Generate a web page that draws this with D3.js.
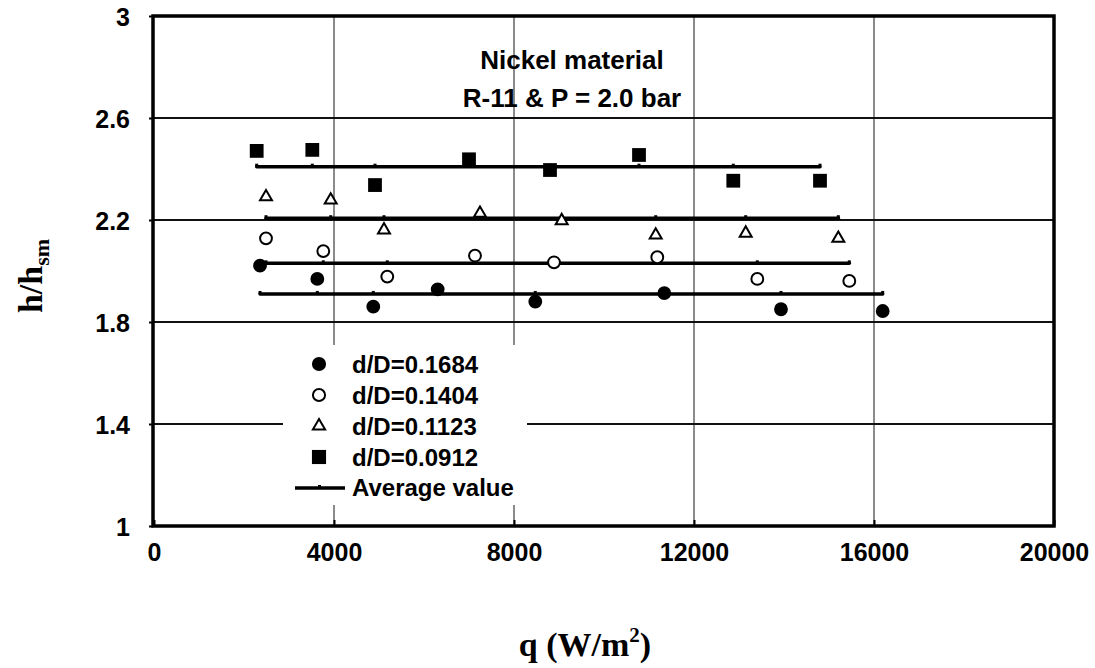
<!DOCTYPE html>
<html>
<head>
<meta charset="utf-8">
<script src="https://cdn.jsdelivr.net/npm/d3@7"></script>
<style>
  body { margin: 0; background: #fff; }
  text { font-family: "Liberation Sans", Arial, sans-serif; font-weight: bold; fill: #000; }
  .serif { font-family: "Liberation Serif", "Times New Roman", serif; }
</style>
</head>
<body>
<svg id="chart" width="1095" height="668"></svg>
<script>
//============ data =========//
// d/D = 0.1684 (filled circles)
var qFilledCircle = [2356, 3629, 4873, 6304, 8473, 11340, 13933, 16193],
    hFilledCircle = [2.021, 1.969, 1.860, 1.928, 1.880, 1.913, 1.850, 1.843];
// d/D = 0.1404 (open circles)
var qOpenCircle = [2489, 3762, 5184, 7133, 8889, 11184, 13407, 15451],
    hOpenCircle = [2.128, 2.078, 1.978, 2.060, 2.034, 2.054, 1.969, 1.961];
// d/D = 0.1123 (triangles)
var qTriangle = [2489, 3927, 5111, 7244, 9060, 11149, 13149, 15207],
    hTriangle = [2.291, 2.278, 2.161, 2.226, 2.197, 2.141, 2.148, 2.128];
// d/D = 0.0912 (squares)
var qSquare = [2282, 3518, 4911, 7000, 8800, 10778, 12873, 14800],
    hSquare = [2.471, 2.475, 2.337, 2.438, 2.396, 2.455, 2.354, 2.354];

var seriesNames = ['d/D=0.1684', 'd/D=0.1404', 'd/D=0.1123', 'd/D=0.0912'];
var averageValues = [1.910, 2.030, 2.207, 2.409];
var xTickValues = [0, 4000, 8000, 12000, 16000, 20000];
var yTickValues = [1, 1.4, 1.8, 2.2, 2.6, 3];
var titleLines = ['Nickel material', 'R-11 & P = 2.0 bar'];

//============ layout =========//
var svg = d3.select('#chart');
var plotLeft = 154, plotRight = 1054, plotTop = 16, plotBottom = 526;

var x = d3.scaleLinear().domain([0, 20000]).range([plotLeft, plotRight]);
var y = d3.scaleLinear().domain([1, 3]).range([plotBottom, plotTop]);

// vertical grid (grey)
svg.append('g')
  .selectAll('line')
  .data(xTickValues.slice(1, -1))
  .enter().append('line')
  .attr('x1', function(d) { return x(d); })
  .attr('x2', function(d) { return x(d); })
  .attr('y1', plotTop).attr('y2', plotBottom)
  .attr('stroke', '#8a8a8a').attr('stroke-width', 2);

// horizontal grid (black)
svg.append('g')
  .selectAll('line')
  .data(yTickValues.slice(1, -1))
  .enter().append('line')
  .attr('x1', plotLeft).attr('x2', plotRight)
  .attr('y1', function(d) { return y(d); })
  .attr('y2', function(d) { return y(d); })
  .attr('stroke', '#111').attr('stroke-width', 2);

// axes
var xAxis = svg.append('g')
  .attr('transform', 'translate(0,' + plotBottom + ')')
  .call(d3.axisBottom(x).tickValues(xTickValues).tickSize(-6).tickPadding(17)
    .tickFormat(function(d) { return String(d); }));
xAxis.select('.domain').remove();
xAxis.selectAll('.tick line').attr('stroke', '#000').attr('stroke-width', 2);
xAxis.selectAll('text').style('font-size', '25px').attr('dy', '0.71em');

var yAxis = svg.append('g')
  .attr('transform', 'translate(' + (plotLeft - 1) + ',0)')
  .call(d3.axisLeft(y).tickValues(yTickValues).tickSize(4).tickPadding(19)
    .tickFormat(function(d) { return String(d); }));
yAxis.select('.domain').remove();
yAxis.selectAll('.tick line').attr('stroke', '#000').attr('stroke-width', 2);
yAxis.selectAll('text').style('font-size', '25px').attr('dy', '0.36em');

//============ average lines =========//
var allSeries = [
  { q: qFilledCircle, h: hFilledCircle, symbol: d3.symbolCircle, size: 150, fill: '#000' },
  { q: qOpenCircle, h: hOpenCircle, symbol: d3.symbolCircle, size: 110, fill: '#fff' },
  { q: qTriangle, h: hTriangle, symbol: d3.symbolTriangle, size: 62, fill: '#fff' },
  { q: qSquare, h: hSquare, symbol: d3.symbolSquare, size: 190, fill: '#000' }
];

var avgLine = d3.line()
  .x(function(d) { return x(d[0]); })
  .y(function(d) { return y(d[1]); });

allSeries.forEach(function(s, i) {
  var pts = s.q.map(function(q) { return [q, averageValues[i]]; });
  svg.append('path')
    .attr('d', avgLine(pts))
    .attr('fill', 'none').attr('stroke', '#000').attr('stroke-width', 3.5)
    .attr('stroke-linecap', 'round');
  // tiny dash markers on the average line
  svg.append('g').selectAll('rect')
    .data(pts)
    .enter().append('rect')
    .attr('x', function(d) { return x(d[0]) - 1.5; })
    .attr('y', function(d) { return y(d[1]) - 3; })
    .attr('width', 3).attr('height', 3)
    .attr('fill', '#000');
});

//============ points =========//
allSeries.forEach(function(s) {
  var shape = d3.symbol().type(s.symbol).size(s.size);
  svg.append('g').selectAll('path')
    .data(s.q.map(function(q, j) { return [q, s.h[j]]; }))
    .enter().append('path')
    .attr('d', shape)
    .attr('transform', function(d) { return 'translate(' + x(d[0]) + ',' + y(d[1]) + ')'; })
    .attr('fill', s.fill)
    .attr('stroke', '#000')
    .attr('stroke-width', s.fill === '#fff' ? 2 : 0);
});

//============ frame =========//
svg.append('rect')
  .attr('x', plotLeft - 1).attr('y', plotTop)
  .attr('width', plotRight - plotLeft + 1).attr('height', plotBottom - plotTop)
  .attr('fill', 'none').attr('stroke', '#000').attr('stroke-width', 3.5);

//============ legend =========//
var legend = svg.append('g');
legend.append('rect')
  .attr('x', 283).attr('y', 345).attr('width', 244).attr('height', 160)
  .attr('fill', '#fff');

var rowY = [364, 395, 426, 457];
allSeries.forEach(function(s, i) {
  var shape = d3.symbol().type(s.symbol).size(s.size * 1.05);
  legend.append('path')
    .attr('d', shape)
    .attr('transform', 'translate(319,' + rowY[i] + ')')
    .attr('fill', s.fill).attr('stroke', '#000')
    .attr('stroke-width', s.fill === '#fff' ? 2 : 0);
  legend.append('text')
    .attr('x', 352).attr('y', rowY[i] + 9)
    .style('font-size', '24px')
    .text(seriesNames[i]);
});
legend.append('line')
  .attr('x1', 295).attr('x2', 345).attr('y1', 488).attr('y2', 488)
  .attr('stroke', '#000').attr('stroke-width', 3.5);
legend.append('rect')
  .attr('x', 318).attr('y', 485).attr('width', 3).attr('height', 3).attr('fill', '#000');
legend.append('text')
  .attr('x', 352).attr('y', 496)
  .style('font-size', '24px')
  .text('Average value');

//============ titles =========//
svg.append('g').selectAll('text')
  .data(titleLines)
  .enter().append('text')
  .attr('x', 572)
  .attr('y', function(d, i) { return 69 + i * 38; })
  .attr('text-anchor', 'middle')
  .style('font-size', '26px')
  .text(function(d) { return d; });

// y axis title h/h_sm
var yTitle = svg.append('text')
  .attr('class', 'serif')
  .attr('transform', 'translate(42,276) rotate(-90)')
  .attr('text-anchor', 'middle')
  .style('font-size', '34px');
yTitle.append('tspan').text('h/h');
yTitle.append('tspan').attr('dy', 7).style('font-size', '22px').text('sm');

// x axis title q (W/m2)
var xTitle = svg.append('text')
  .attr('class', 'serif')
  .attr('x', 585).attr('y', 656)
  .attr('text-anchor', 'middle')
  .style('font-size', '34px');
xTitle.append('tspan').text('q (W/m');
xTitle.append('tspan').attr('dy', -14).style('font-size', '21px').text('2');
xTitle.append('tspan').attr('dy', 14).text(')');
</script>
</body>
</html>
